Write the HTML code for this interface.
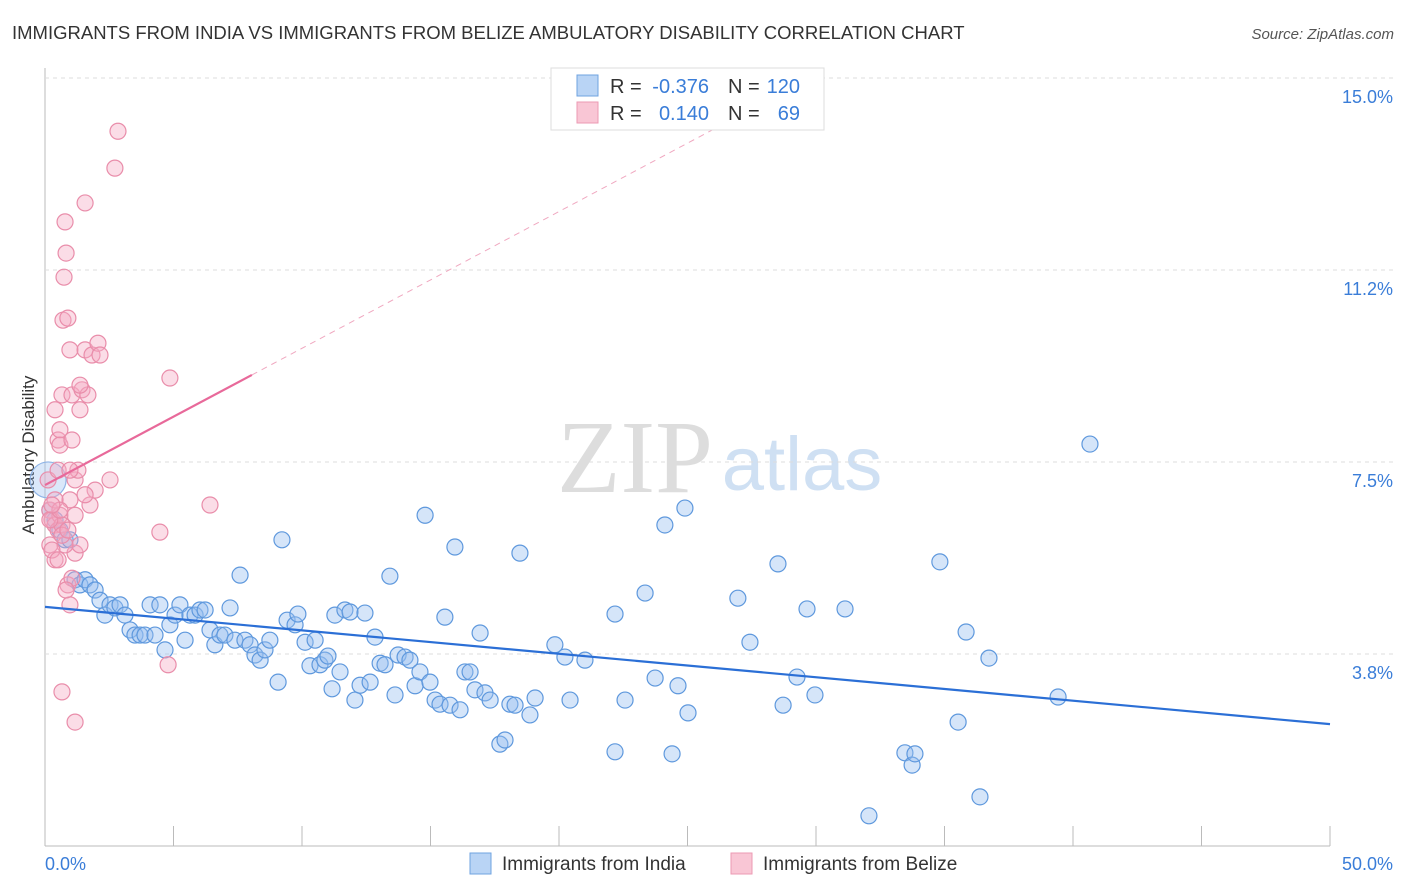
<!DOCTYPE html>
<html><head><meta charset="utf-8"><style>
body{margin:0;background:#fff;font-family:"Liberation Sans",sans-serif}
svg{display:block}
</style></head><body>
<svg id="c" width="1406" height="892">
<text x="12" y="39" font-size="18.5" fill="#333">IMMIGRANTS FROM INDIA VS IMMIGRANTS FROM BELIZE AMBULATORY DISABILITY CORRELATION CHART</text>
<text x="1394" y="39" font-size="15" fill="#555" font-style="italic" text-anchor="end">Source: ZipAtlas.com</text>
<text x="34" y="455" font-size="17" fill="#333" transform="rotate(-90 34 455)" text-anchor="middle">Ambulatory Disability</text>
<g><text x="635" y="492" font-size="104" fill="#ddd" font-family="Liberation Serif" text-anchor="middle">ZIP</text><text x="802" y="490" font-size="76" fill="#cfe0f3" text-anchor="middle">atlas</text></g>
<g id="grid"></g><g id="pts"></g><g id="lines"></g>
<g>
<rect x="551" y="68" width="273" height="62" fill="#fff" stroke="#ddd"/>
<rect x="577" y="75" width="21" height="21" fill="#b9d4f5" stroke="#6fa3e0"/>
<rect x="577" y="102" width="21" height="21" fill="#f9c6d5" stroke="#ec9ab3"/>
<text x="610" y="93" font-size="20" fill="#333">R =</text>
<text x="709" y="93" font-size="20" fill="#3a7dd8" text-anchor="end">-0.376</text>
<text x="728" y="93" font-size="20" fill="#333">N =</text>
<text x="800" y="93" font-size="20" fill="#3a7dd8" text-anchor="end">120</text>
<text x="610" y="120" font-size="20" fill="#333">R =</text>
<text x="709" y="120" font-size="20" fill="#3a7dd8" text-anchor="end">0.140</text>
<text x="728" y="120" font-size="20" fill="#333">N =</text>
<text x="800" y="120" font-size="20" fill="#3a7dd8" text-anchor="end">69</text>
</g>
<g>
<rect x="470" y="853" width="21" height="21" fill="#b9d4f5" stroke="#6fa3e0"/>
<text x="502" y="870" font-size="19" fill="#333">Immigrants from India</text>
<rect x="731" y="853" width="21" height="21" fill="#f9c6d5" stroke="#ec9ab3"/>
<text x="763" y="870" font-size="19" fill="#333">Immigrants from Belize</text>
</g>
</svg>
<script>
const yTicks=[15.0,11.2,7.5,3.8];
const yTickVals=[15,11.25,7.5,3.75];
const xTickLabels=["0.0%","50.0%"];
const indiaX=[0.19,0.39,0.58,0.78,0.97,1.17,1.36,1.56,1.75,1.95,2.14,2.33,2.53,2.72,2.92,3.11,3.31,3.5,3.7,3.89,4.09,4.28,4.47,4.67,4.86,5.06,5.25,5.45,5.64,5.84,6.03,6.23,6.42,6.61,6.81,7.0,7.2,7.39,7.59,7.78,7.98,8.17,8.37,8.56,8.75,9.07,9.22,9.42,9.73,9.84,10.12,10.31,10.51,10.7,10.89,11.01,11.17,11.28,11.48,11.67,11.87,12.06,12.26,12.45,12.65,12.84,13.04,13.23,13.42,13.62,13.74,14.01,14.2,14.4,14.59,14.79,14.98,15.18,15.37,15.56,15.76,15.95,16.15,16.34,16.54,16.73,16.93,17.12,17.32,17.7,17.9,18.09,18.29,18.48,18.87,19.07,19.84,20.23,20.43,21.01,22.18,22.18,22.57,23.35,23.74,24.12,24.4,24.63,24.9,25.02,26.96,27.43,28.52,28.72,29.26,29.65,29.96,31.13,32.06,33.46,33.74,33.85,34.82,35.53,35.84,36.38,36.73,39.42,40.66];
const indiaY=[6.56,6.37,6.17,5.98,5.98,5.2,5.1,5.2,5.1,5.0,4.8,4.51,4.71,4.65,4.71,4.51,4.22,4.12,4.12,4.12,4.71,4.12,4.71,3.83,4.32,4.51,4.71,4.02,4.51,4.51,4.61,4.61,4.22,3.93,4.12,4.12,4.65,4.02,5.29,4.02,3.93,3.73,3.63,3.83,4.02,3.2,5.98,4.41,4.32,4.53,3.98,3.52,4.02,3.54,3.63,3.71,3.07,4.51,3.4,4.61,4.57,2.85,3.14,4.55,3.2,4.08,3.57,3.54,5.27,2.95,3.73,3.69,3.63,3.13,3.4,6.46,3.2,2.85,2.77,4.47,2.75,5.84,2.66,3.4,3.4,3.05,4.16,2.99,2.85,1.99,2.07,2.77,2.75,5.72,2.56,2.89,3.93,3.69,2.85,3.63,4.53,1.84,2.85,4.94,3.28,6.27,1.8,3.13,6.6,2.6,4.84,3.98,5.51,2.75,3.3,4.63,2.95,4.63,0.59,1.82,1.58,1.8,5.55,2.42,4.18,0.96,3.67,2.91,7.85];
const belizeX=[0.12,0.19,0.27,0.39,0.51,0.58,0.66,0.19,0.39,0.51,0.58,0.66,0.7,0.74,0.78,0.82,0.89,0.97,1.05,1.17,1.28,1.36,1.44,1.56,1.56,1.67,1.75,1.83,1.95,2.06,2.14,2.53,2.72,2.84,4.47,4.86,4.79,6.42,0.66,1.17,0.97,0.89,1.05,1.17,1.36,1.56,0.97,0.78,0.51,0.58,0.39,0.27,0.19,1.17,0.66,0.89,1.36,1.05,0.39,0.58,0.27,0.51,0.82,0.97];
const belizeY=[7.15,6.56,6.37,6.27,6.17,6.46,6.27,5.88,5.59,7.93,8.13,8.81,10.27,11.11,12.19,11.58,10.31,9.69,8.81,7.15,7.34,8.52,8.91,9.69,12.56,8.81,6.66,9.59,6.95,9.82,9.59,7.15,13.24,13.96,6.13,9.14,3.54,6.66,3.01,2.42,4.71,5.1,5.23,5.72,5.88,6.86,6.76,5.88,7.34,7.83,8.52,5.78,6.37,6.46,6.07,6.17,9.0,7.93,6.76,6.56,6.66,5.59,5.0,7.34];
const indiaTrend=[4.67,2.38];
const belizeTrend=[7.05,9.2];
const belizeSolidEnd=8.05, belizeDashEnd=27.8;

const NS="http://www.w3.org/2000/svg";
const X=v=>45+v*25.7, Y=v=>846-v*51.2;
function mk(tag,attrs,parent){const e=document.createElementNS(NS,tag);for(const k in attrs)e.setAttribute(k,attrs[k]);parent.appendChild(e);return e;}
const grid=document.getElementById('grid'),pts=document.getElementById('pts'),lines=document.getElementById('lines');
let ax=mk('line',{x1:45,y1:68,x2:45,y2:846,stroke:'#bbb'},grid);

let bx=mk('line',{x1:45,y1:846,x2:1330,y2:846,stroke:'#bbb'},grid);

for(let i=0;i<=10;i++){let t=mk('line',{x1:X(i*5),y1:826,x2:X(i*5),y2:846,stroke:'#bbb'},grid);
}
yTicks.forEach((lab,i)=>{const y=Y(yTickVals[i]);
let g=mk('line',{x1:45,y1:y,x2:1394,y2:y,stroke:'#ddd','stroke-dasharray':'4,4'},grid);

let t=mk('text',{x:1393,y:y+25,'font-size':18,fill:'#3a7dd8','text-anchor':'end'},grid);t.textContent=lab.toFixed(1)+'%';
});
[[0,45,'start'],[1,1393,'end']].forEach(([i,x,a])=>{let t=mk('text',{x:x,y:870,'font-size':18,fill:'#3a7dd8','text-anchor':a},grid);t.textContent=xTickLabels[i];
});
let big=mk('circle',{cx:X(0.12),cy:Y(7.15),r:18,fill:'rgba(150,190,240,0.35)',stroke:'#8fb4e6','stroke-width':1.2},pts);

indiaX.forEach((v,i)=>{let c=mk('circle',{cx:X(v),cy:Y(indiaY[i]),r:8,fill:'rgba(150,190,240,0.4)',stroke:'#5e98dd','stroke-width':1.2},pts);
});
belizeX.forEach((v,i)=>{let c=mk('circle',{cx:X(v),cy:Y(belizeY[i]),r:8,fill:'rgba(245,170,195,0.4)',stroke:'#e98daa','stroke-width':1.2},pts);
});
let l1=mk('line',{x1:X(0),y1:Y(indiaTrend[0]),x2:X(50),y2:Y(indiaTrend[1]),stroke:'#2b6fd6','stroke-width':2.2},lines);

const slope=(belizeTrend[1]-belizeTrend[0])/belizeSolidEnd;
let l2=mk('line',{x1:X(0),y1:Y(belizeTrend[0]),x2:X(belizeSolidEnd),y2:Y(belizeTrend[1]),stroke:'#e8699a','stroke-width':2.2},lines);

let l3=mk('line',{x1:X(belizeSolidEnd),y1:Y(belizeTrend[1]),x2:X(belizeDashEnd),y2:Y(belizeTrend[0]+slope*belizeDashEnd),stroke:'#f0a8c0','stroke-width':1,'stroke-dasharray':'6,5'},lines);

</script>
</body></html>
